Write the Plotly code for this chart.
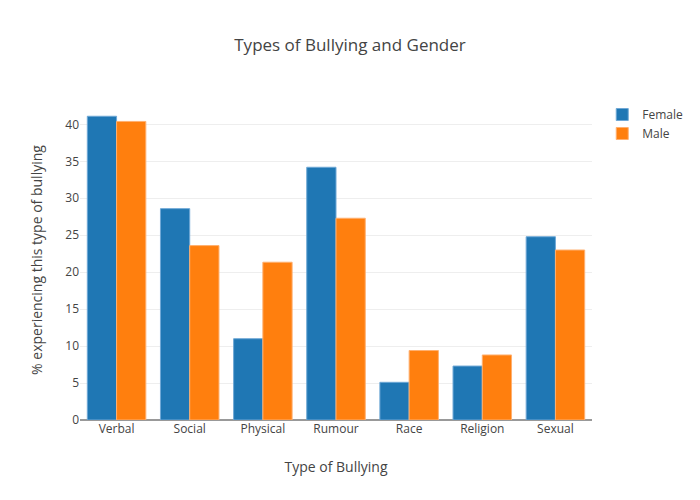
import plotly.graph_objects as go

categories = ["Verbal", "Social", "Physical", "Rumour", "Race", "Religion", "Sexual"]
female = [41.1, 28.6, 11.0, 34.2, 5.1, 7.3, 24.8]
male = [40.4, 23.6, 21.35, 27.3, 9.4, 8.8, 23.0]

fig = go.Figure()
fig.add_trace(go.Bar(x=categories, y=female, name="Female",
                     marker=dict(color="#1f77b4", line=dict(color="#6fa8d6", width=1))))
fig.add_trace(go.Bar(x=categories, y=male, name="Male",
                     marker=dict(color="#ff7f0e", line=dict(color="#ffb070", width=1))))

fig.update_layout(
    width=700, height=500,
    template="none",
    font=dict(family="Open Sans", color="#444", size=12),
    title=dict(text="Types of Bullying and Gender", x=0.5, xanchor="center",
               y=0.91, yanchor="middle", font=dict(size=17)),
    barmode="group",
    bargap=0.2,
    margin=dict(l=80, r=108, t=100, b=80, autoexpand=False),
    paper_bgcolor="white", plot_bgcolor="white",
    xaxis=dict(title=dict(text="Type of Bullying", font=dict(size=14)), showgrid=False,
               showline=False, ticks="", automargin=False),
    yaxis=dict(title=dict(text="% experiencing this type of bullying", font=dict(size=14)),
               gridcolor="#eee", zeroline=True, zerolinecolor="#999", zerolinewidth=2,
               ticks="", dtick=5, range=[0, 43.3], automargin=False),
    legend=dict(x=1.02, y=1, font=dict(size=12)),
)

fig.write_html("out.html", config={"displayModeBar": False},
               post_script="document.body.style.margin='0';")
